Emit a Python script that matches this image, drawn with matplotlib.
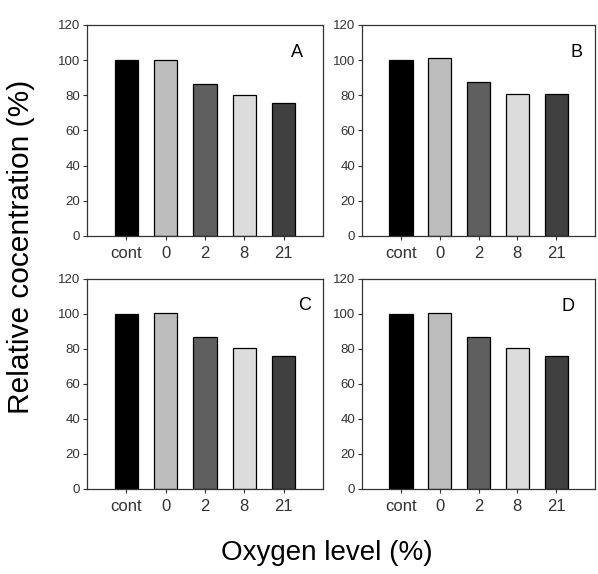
import numpy as np
import matplotlib
matplotlib.use("Agg")
import matplotlib.pyplot as plt

plt.rcParams['font.family'] = ['Liberation Sans', 'DejaVu Sans']

# data
categories = ["cont", "0", "2", "8", "21"]
panel_a = [100, 100, 86.4, 80.4, 75.5]
panel_b = [100, 101, 87.8, 80.6, 80.6]
panel_c = [100, 100.6, 87, 80.6, 76.2]
panel_d = [100, 100.6, 87, 80.6, 76.2]
panels = {"A": panel_a, "B": panel_b, "C": panel_c, "D": panel_d}
bar_colors = ["#000000", "#bdbdbd", "#5f5f5f", "#dcdcdc", "#404040"]
yticks = [0, 20, 40, 60, 80, 100, 120]

fig = plt.figure(figsize=(5.98, 5.74), dpi=100)

# axes rectangles [left, bottom, width, height] in figure fractions
rects = {
    "A": [0.1455, 0.5889, 0.3946, 0.3676],
    "B": [0.6054, 0.5889, 0.3896, 0.3676],
    "C": [0.1455, 0.1481, 0.3946, 0.3659],
    "D": [0.6054, 0.1481, 0.3896, 0.3659],
}
letter_pos = {"A": (0.89, 0.87), "B": (0.92, 0.87), "C": (0.92, 0.875), "D": (0.885, 0.87)}

x = np.arange(len(categories))
for name, vals in panels.items():
    ax = fig.add_axes(rects[name])
    ax.bar(x, vals, width=0.6, color=bar_colors, edgecolor="black", linewidth=0.9, zorder=2)
    ax.set_xlim(-1, 5)
    ax.set_ylim(0, 120)
    ax.set_yticks(yticks)
    ax.set_xticks(x)
    ax.set_xticklabels(categories)
    ax.tick_params(axis="y", direction="out", length=3, width=0.8, labelsize=9.5,
                   colors="#333333", pad=2)
    ax.tick_params(axis="x", direction="out", length=3, width=0.8, labelsize=12,
                   colors="#333333", pad=4)
    for sp in ax.spines.values():
        sp.set_color("#333333")
        sp.set_linewidth(0.9)
    ax.text(letter_pos[name][0], letter_pos[name][1], name, transform=ax.transAxes,
            ha="center", va="center", fontsize=13, color="black")

fig.text(21 / 598, 1 - 247 / 574, "Relative cocentration (%)", rotation=90,
         ha="center", va="center", fontsize=21.5, color="black")
fig.text(327 / 598, 1 - 553 / 574, "Oxygen level (%)",
         ha="center", va="center", fontsize=20, color="black")

fig.savefig("out.png", dpi=100)
